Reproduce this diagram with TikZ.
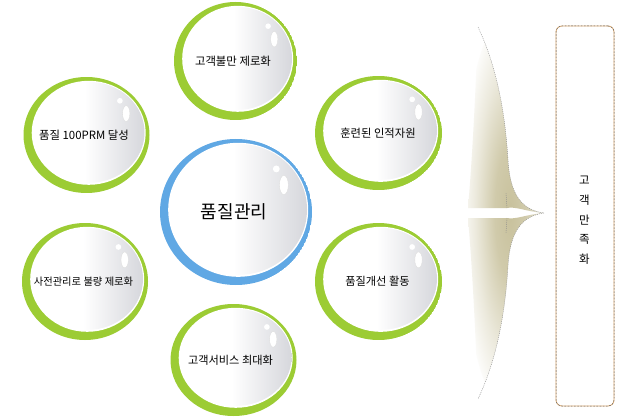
\documentclass[tikz,border=0pt]{standalone}
\usepackage{fontspec}
\setmainfont{Noto Sans CJK KR}
\usetikzlibrary{calc,backgrounds,shapes.geometric}
\definecolor{ringgreen}{RGB}{156,204,52}
\definecolor{ringblue}{RGB}{96,168,228}
\definecolor{linkgreen}{RGB}{74,152,52}
\definecolor{bubblegrey}{RGB}{214,215,220}
\definecolor{khaki}{RGB}{200,193,156}
\definecolor{boxtan}{RGB}{218,166,108}
\pgfdeclarehorizontalshading{bubbleshade}{100bp}{color(0bp)=(white); color(25bp)=(white); color(48bp)=(white); color(75bp)=(bubblegrey); color(100bp)=(bubblegrey)}
\pgfdeclareradialshading{braceshade}{\pgfpoint{0bp}{0bp}}{color(0bp)=(khaki); color(8bp)=(khaki!85!white); color(18bp)=(khaki!35!white); color(25bp)=(khaki!6!white); color(50bp)=(white)}
\tikzset{
  bubble/.style n args={4}{% ring colour, x radius, y radius, font size
    shape=ellipse, inner sep=0pt, fill=white,
    minimum width=2*#2, minimum height=2*#3,
    font=\fontsize{#4}{#4}\selectfont, text=black,
    path picture={
      \coordinate (pc) at (path picture bounding box.center);
      \fill[#1] (pc) ellipse [x radius=#2, y radius=#3];
      \fill[white] ($(pc)+(2.2,-2.2)$) ellipse [x radius=#2-6, y radius=#3-6];
      \shade[shading=bubbleshade] ($(pc)+(2.6,-2.6)$) ellipse [x radius=#2-7.6, y radius=#3-7.6];
      \coordinate (hd) at ($(pc)+(0.53*#2,-0.59*#3)$);
      \coordinate (he) at ($(pc)+(0.63*#2,-0.37*#3)$);
      \fill[white] (hd) circle [radius=2.8*#2/62];
      \fill[white, draw=black!14, line width=0.3pt, rotate around={28:(he)}] (he) ellipse [x radius=3.6*#2/62, y radius=7.8*#2/62];
    }},
  link/.style={draw=linkgreen, line width=1.6pt},
  braceedge/.style={draw=black!45, line width=0.4pt, dash pattern=on 1pt off 1pt},
  satbox/.style={draw=boxtan, line width=0.8pt, rounded corners=6pt,
    minimum width=58pt, minimum height=380pt, inner sep=0pt,
    postaction={draw=black!60, line width=0.5pt, dash pattern=on 1.6pt off 1.6pt}},
  sattext/.style={align=center, font=\fontsize{11.5}{19.7}\selectfont, text=black}
}
\begin{document}
\begin{tikzpicture}[x=1pt, y=-1pt]
\useasboundingbox (0,0) rectangle (640,417);
\fill[white] (0,0) rectangle (640,417);

% bubbles
\node[bubble={ringblue}{76}{73}{18}] (qc) at (236,212) {품질관리\kern4pt};
\node[bubble={ringgreen}{61.5}{59}{11.4}] (qtop) at (235.5,61) {고객불만 제로화\kern5pt};
\node[bubble={ringgreen}{63}{58}{11.4}] (qtl) at (86.5,135) {품질 100PRM 달성\kern5pt};
\node[bubble={ringgreen}{63.5}{57}{11.3}] (qtr) at (378.5,133) {훈련된 인적자원\kern1pt};
\node[bubble={ringgreen}{63}{58.5}{10.3}] (qbl) at (85,281.5) {사전관리로 불량 제로화\kern3pt};
\node[bubble={ringgreen}{63.5}{58.5}{11.2}] (qbr) at (378.5,281.5) {품질개선 활동\kern2pt};
\node[bubble={ringgreen}{63}{56}{11.2}] (qbot) at (233.5,360) {고객서비스 최대화\kern6pt};

% connectors
\begin{pgfonlayer}{background}
\draw[link] (qc) -- (qtop);
\draw[link] (qc) -- (qtl);
\draw[link] (qc) -- (qtr);
\draw[link] (qc) -- (qbl);
\draw[link] (qc) -- (qbr);
\draw[link] (qc) -- (qbot);
\end{pgfonlayer}

% brace (upper lobe)
\begin{scope}
\clip (478,27) .. controls (496,65) and (505,110) .. (508,160)
  .. controls (510,195) and (522,210) .. (544,213)
  .. controls (528,212) and (515,206) .. (507,208)
  -- (468,208) .. controls (473,150) and (476,80) .. (478,27) -- cycle;
\shade[shading=braceshade] (510,212) ellipse [x radius=48, y radius=200];
\end{scope}
% brace (lower lobe)
\begin{scope}
\clip (544,213) .. controls (522,216) and (510,231) .. (508,266)
  .. controls (505,316) and (496,361) .. (478,399)
  .. controls (476,346) and (473,276) .. (468,218)
  -- (507,218) .. controls (515,220) and (528,214) .. (544,213) -- cycle;
\shade[shading=braceshade] (510,212) ellipse [x radius=48, y radius=200];
\end{scope}
\draw[braceedge] (478,27) .. controls (496,65) and (505,110) .. (508,160)
  .. controls (510,195) and (522,210) .. (544,213)
  .. controls (522,216) and (510,231) .. (508,266)
  .. controls (505,316) and (496,361) .. (478,399);
\draw[braceedge] (507,208) -- (506,193);
\draw[braceedge] (507,218) -- (506,233);

% result box
\node[satbox] (sbox) at (585,216) {};
\node[sattext] (stext) at (584.5,220.5) {고\\객\\만\\족\\화};
\end{tikzpicture}
\end{document}
